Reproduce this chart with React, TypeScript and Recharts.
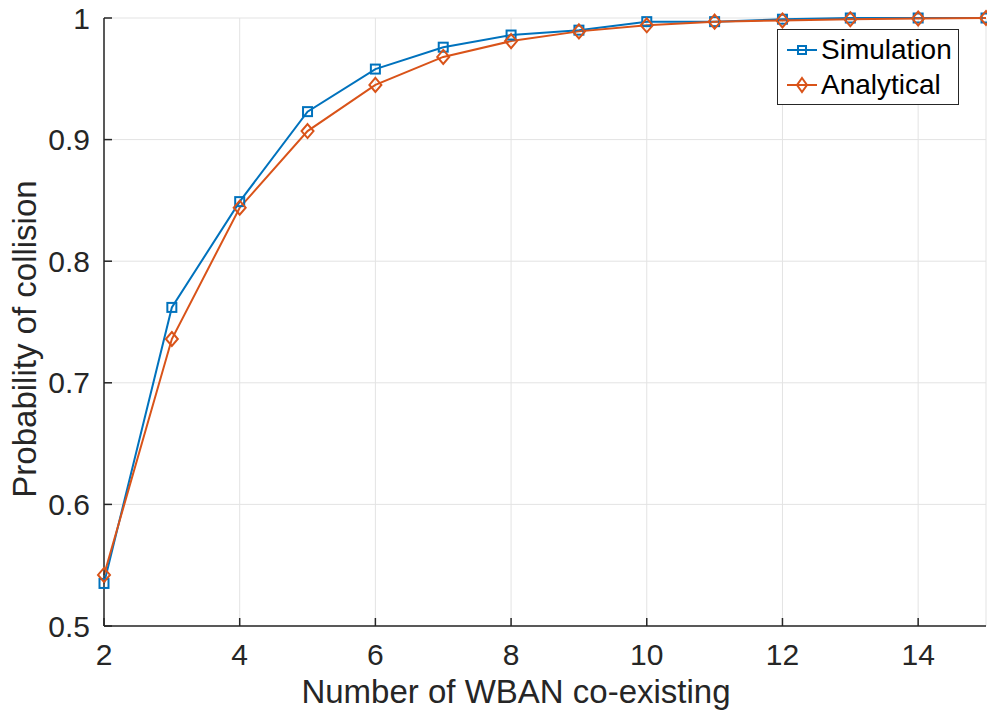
import React from "react";
import { CartesianGrid, Line, LineChart, XAxis, YAxis } from "recharts";

const wbanCounts = [2, 3, 4, 5, 6, 7, 8, 9, 10, 11, 12, 13, 14, 15];
const simulation = [
  0.535, 0.762, 0.849, 0.923, 0.958, 0.976, 0.986, 0.99, 0.997, 0.997, 0.999,
  1.0, 1.0, 1.0,
];
const analytical = [
  0.542, 0.736, 0.844, 0.907, 0.945, 0.968, 0.981, 0.989, 0.994, 0.997, 0.998,
  0.999, 0.9996, 1.0,
];
const xTicks = [2, 4, 6, 8, 10, 12, 14];
const yTicks = [0.5, 0.6, 0.7, 0.8, 0.9, 1];

const BLUE = "#0072BD";
const ORANGE = "#D95319";
const AXIS = "#262626";
const FONT = "'Liberation Sans', Arial, sans-serif";

const data = wbanCounts.map((n, i) => ({
  n,
  simulation: simulation[i],
  analytical: analytical[i],
}));

type DotProps = { cx?: number; cy?: number; index?: number };

function SquareDot({ cx, cy, index }: DotProps) {
  if (cx == null || cy == null) return null;
  return (
    <rect
      key={`sq-${index}`}
      x={cx - 4.5}
      y={cy - 4.5}
      width={9}
      height={9}
      fill="none"
      stroke={BLUE}
      strokeWidth={2}
    />
  );
}

function DiamondDot({ cx, cy, index }: DotProps) {
  if (cx == null || cy == null) return null;
  return (
    <path
      key={`dm-${index}`}
      d={`M${cx},${cy - 7}L${cx + 6},${cy}L${cx},${cy + 7}L${cx - 6},${cy}Z`}
      fill="none"
      stroke={ORANGE}
      strokeWidth={2}
    />
  );
}

function LegendBox() {
  const row = (color: string, label: string, marker: React.ReactNode) => (
    <div style={{ display: "flex", alignItems: "center", height: 35 }}>
      <svg width={30} height={20} style={{ marginRight: 4 }}>
        <line x1={0} y1={10} x2={30} y2={10} stroke={color} strokeWidth={2} />
        {marker}
      </svg>
      <span>{label}</span>
    </div>
  );
  return (
    <div
      style={{
        position: "absolute",
        left: 769,
        top: 31,
        width: 171,
        border: `1px solid ${AXIS}`,
        background: "#fff",
        padding: "2px 0 2px 9px",
        fontFamily: FONT,
        fontSize: 28,
        color: "#000",
        lineHeight: 1,
      }}
    >
      {row(
        BLUE,
        "Simulation",
        <rect x={11} y={6} width={8} height={8} fill="none" stroke={BLUE} strokeWidth={2} />
      )}
      {row(
        ORANGE,
        "Analytical",
        <path d="M15,3L20,10L15,17L10,10Z" fill="none" stroke={ORANGE} strokeWidth={2} />
      )}
    </div>
  );
}

function YLabel({ viewBox }: { viewBox?: { x: number; y: number; height: number } }) {
  const cy = viewBox ? viewBox.y + viewBox.height / 2 + 17 : 339;
  return (
    <text
      x={28}
      y={cy}
      transform={`rotate(-90, 28, ${cy})`}
      textAnchor="middle"
      fill={AXIS}
      fontSize={33}
      fontFamily={FONT}
    >
      Probability of collision
    </text>
  );
}

export default function App(): React.ReactElement {
  // shifted up so the top tick label has room above the plot
  return (
    <div style={{ position: "relative", width: 987, height: 715, marginTop: -10 }}>
      <LineChart
        width={987}
        height={715}
        data={data}
        margin={{ top: 20, right: 9, left: 0, bottom: 0 }}
        style={{ fontFamily: FONT, background: "#fff" }}
      >
        <CartesianGrid stroke="#e3e3e3" strokeWidth={1} />
        <XAxis
          dataKey="n"
          type="number"
          domain={[2, 15]}
          ticks={xTicks}
          interval={0}
          height={87}
          tickSize={-8}
          tickMargin={26}
          stroke={AXIS}
          strokeWidth={1.5}
          tick={{ fill: AXIS, fontSize: 30 }}
          label={{
            value: "Number of WBAN co-existing",
            position: "insideBottom",
            offset: 10,
            dx: -29,
            fill: AXIS,
            fontSize: 33,
          }}
        />
        <XAxis
          xAxisId="top"
          orientation="top"
          dataKey="n"
          type="number"
          domain={[2, 15]}
          ticks={xTicks}
          height={0}
          tickSize={-8}
          tick={false}
          stroke={AXIS}
          strokeWidth={1.5}
        />
        <YAxis
          type="number"
          domain={[0.5, 1]}
          ticks={yTicks}
          interval={0}
          width={96}
          tickSize={-8}
          tickMargin={22}
          stroke={AXIS}
          strokeWidth={1.5}
          tickFormatter={(v: number) => String(Number(v.toFixed(1)))}
          tick={{ fill: AXIS, fontSize: 30 }}
          label={<YLabel />}
        />
        <YAxis
          yAxisId="right"
          orientation="right"
          type="number"
          domain={[0.5, 1]}
          ticks={yTicks}
          width={0}
          tickSize={-8}
          tick={false}
          stroke={AXIS}
          strokeWidth={1.5}
        />
        <Line
          dataKey="simulation"
          stroke={BLUE}
          strokeWidth={2}
          dot={<SquareDot />}
          isAnimationActive={false}
        />
        <Line
          dataKey="analytical"
          stroke={ORANGE}
          strokeWidth={2}
          dot={<DiamondDot />}
          isAnimationActive={false}
        />
      </LineChart>
      <LegendBox />
    </div>
  );
}
